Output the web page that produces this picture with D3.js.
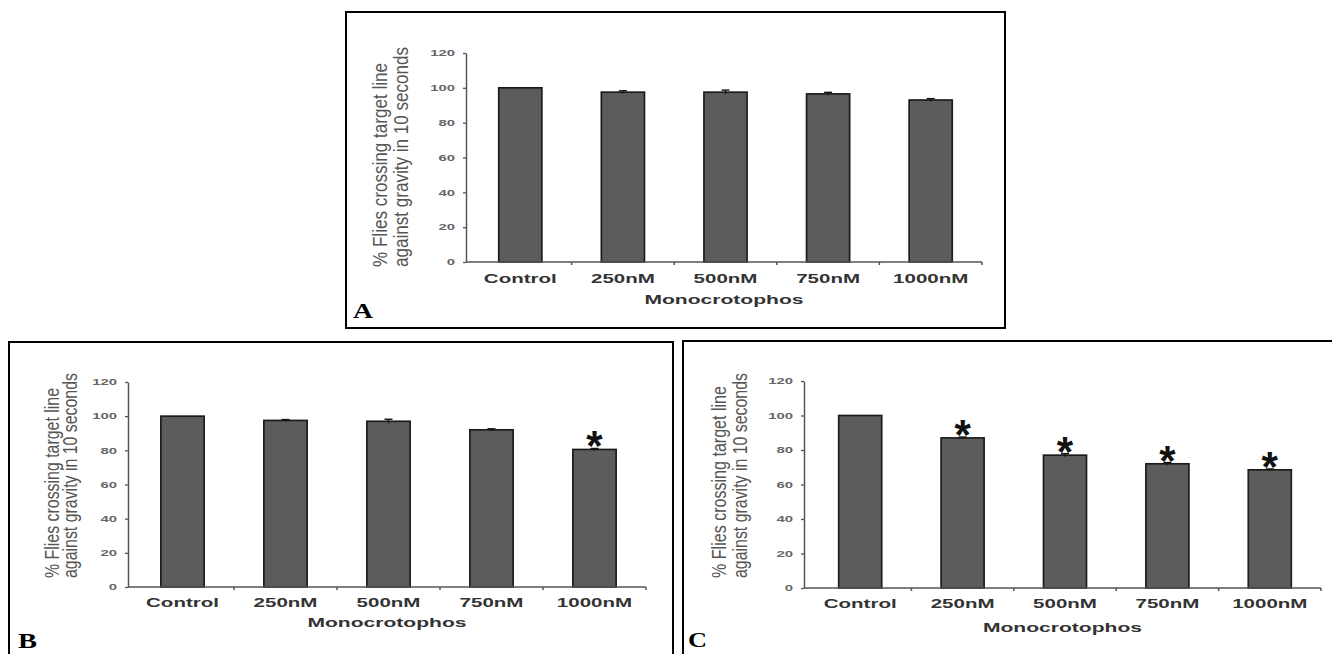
<!DOCTYPE html>
<html>
<head>
<meta charset="utf-8">
<script src="https://cdn.jsdelivr.net/npm/d3@7"></script>
<style>
  html, body { margin: 0; padding: 0; background: #ffffff; }
  svg { display: block; }
</style>
</head>
<body>
<svg id="chart" width="1332" height="654"></svg>
<script>
// ---------------- data ----------------
const categories = ["Control", "250nM", "500nM", "750nM", "1000nM"];
const yTickValues = [0, 20, 40, 60, 80, 100, 120];
const xAxisTitle = "Monocrotophos";
const yTitleLine1 = "% Flies crossing target line";
const yTitleLine2 = "against gravity in 10 seconds";

const valuesA = [100, 97.5, 97.5, 96.5, 93];
const errorsA = [0, 0.8, 1.2, 0.9, 0.8];
const signifA = [false, false, false, false, false];

const valuesB = [100, 97.5, 97, 92, 80.5];
const errorsB = [0, 0.5, 1.2, 0.6, 0.6];
const signifB = [false, false, false, false, true];

const valuesC = [100, 87, 77, 72, 68.5];
const errorsC = [0, 0.5, 0.9, 0.7, 0.5];
const signifC = [false, true, true, true, true];

// ---------------- drawing ----------------
const svg = d3.select("#chart");

function stretch(sel, f) {
  sel.each(function () {
    const L = this.getComputedTextLength();
    d3.select(this).attr("textLength", L * f).attr("lengthAdjust", "spacingAndGlyphs");
  });
}

const panels = [
  { label: "A", values: valuesA, errors: errorsA, signif: signifA,
    box: [346, 12, 1005, 328], axisX: 466, bandStart: 469, axisEnd: 982,
    y0: 262, y120: 53, letter: [353, 318, 20],
    yl1: [387, 267, 204], yl2: [408, 267, 220], catBase: 21, titleBase: 304 },
  { label: "B", values: valuesB, errors: errorsB, signif: signifB,
    box: [9, 342, 673, 660], axisX: 128, bandStart: 131, axisEnd: 646,
    y0: 587, y120: 382, letter: [18, 648, 19],
    yl1: [59, 578, 190], yl2: [77, 578, 205], catBase: 20, titleBase: 627 },
  { label: "C", values: valuesC, errors: errorsC, signif: signifC,
    box: [683, 341, 1345, 660], axisX: 804, bandStart: 809, axisEnd: 1321,
    y0: 588, y120: 381, letter: [688, 647, 19],
    yl1: [726, 578, 192], yl2: [747, 578, 205], catBase: 20, titleBase: 632 }
];

panels.forEach(p => {
  const g = svg.append("g");

  // panel border
  g.append("rect")
    .attr("x", p.box[0]).attr("y", p.box[1])
    .attr("width", p.box[2] - p.box[0]).attr("height", p.box[3] - p.box[1])
    .attr("fill", "none").attr("stroke", "#000").attr("stroke-width", 2);

  const x = d3.scaleBand().domain(categories)
    .range([p.bandStart, p.axisEnd]).paddingInner(0.58).paddingOuter(0.29);
  const y = d3.scaleLinear().domain([0, 120]).range([p.y0, p.y120]);

  // bars
  g.selectAll("rect.bar").data(categories).join("rect")
    .attr("class", "bar")
    .attr("x", d => x(d))
    .attr("y", (d, i) => y(p.values[i]))
    .attr("width", x.bandwidth())
    .attr("height", (d, i) => y(0) - y(p.values[i]))
    .attr("fill", "#5c5c5c")
    .attr("stroke", "#1c1c1c")
    .attr("stroke-width", 1.7);

  // error bars
  const eg = g.append("g");
  categories.forEach((c, i) => {
    const e = p.errors[i];
    if (!e) return;
    const cx = x(c) + x.bandwidth() / 2;
    eg.append("line").attr("x1", cx).attr("x2", cx)
      .attr("y1", y(p.values[i] - e)).attr("y2", y(p.values[i] + e))
      .attr("stroke", "#111").attr("stroke-width", 1.2);
    eg.append("line").attr("x1", cx - 4).attr("x2", cx + 4)
      .attr("y1", y(p.values[i] + e)).attr("y2", y(p.values[i] + e))
      .attr("stroke", "#111").attr("stroke-width", 1.4);
  });

  // significance stars
  categories.forEach((c, i) => {
    if (!p.signif[i]) return;
    const cx = x(c) + x.bandwidth() / 2;
    g.append("text")
      .attr("x", cx)
      .attr("y", y(p.values[i] + p.errors[i]) - 12 + 24)
      .attr("text-anchor", "middle")
      .attr("font-family", "Liberation Sans, Arial, sans-serif")
      .attr("font-weight", "bold")
      .attr("font-size", 42)
      .attr("fill", "#111")
      .text("*");
  });

  // y axis
  const yAxis = g.append("g")
    .attr("transform", `translate(${p.axisX},0)`)
    .call(d3.axisLeft(y).tickValues(yTickValues).tickSize(3).tickSizeOuter(0).tickPadding(8));
  yAxis.select(".domain").attr("stroke", "#555").attr("stroke-width", 1.5);
  yAxis.selectAll(".tick line").attr("stroke", "#555").attr("stroke-width", 1.3);
  yAxis.selectAll(".tick text")
    .attr("font-family", "Liberation Sans, Arial, sans-serif")
    .attr("font-weight", "bold")
    .attr("font-size", 8.5)
    .attr("fill", "#666")
    .attr("x", -11)
    .call(stretch, 1.75);

  // x axis line
  g.append("line")
    .attr("x1", p.axisX).attr("x2", p.axisEnd)
    .attr("y1", y(0)).attr("y2", y(0))
    .attr("stroke", "#555").attr("stroke-width", 1.5);
  // boundary ticks
  categories.forEach((c, i) => {
    const bx = p.bandStart + x.step() * (i + 1);
    g.append("line").attr("x1", bx).attr("x2", bx)
      .attr("y1", y(0)).attr("y2", y(0) + 3)
      .attr("stroke", "#555").attr("stroke-width", 1.5);
  });

  // category labels
  const xAxis = g.append("g")
    .attr("transform", `translate(0,${y(0)})`)
    .call(d3.axisBottom(x).tickSize(0).tickPadding(0));
  xAxis.select(".domain").remove();
  xAxis.selectAll(".tick text")
    .attr("y", p.catBase).attr("dy", null)
    .attr("font-family", "Liberation Sans, Arial, sans-serif")
    .attr("font-weight", "bold")
    .attr("font-size", 13.5)
    .attr("fill", "#333")
    .call(stretch, 1.52);

  // x title
  g.append("text")
    .attr("x", (p.axisX + p.axisEnd) / 2)
    .attr("y", p.titleBase)
    .attr("text-anchor", "middle")
    .attr("font-family", "Liberation Sans, Arial, sans-serif")
    .attr("font-weight", "bold")
    .attr("font-size", 13.5)
    .attr("fill", "#333")
    .text(xAxisTitle)
    .call(stretch, 1.56);

  // y title (two lines)
  [[yTitleLine1, p.yl1], [yTitleLine2, p.yl2]].forEach(([t, pos]) => {
    g.append("text")
      .attr("transform", `translate(${pos[0]},${pos[1]}) rotate(-90)`)
      .attr("text-anchor", "start")
      .attr("font-family", "Liberation Sans, Arial, sans-serif")
      .attr("font-size", 21)
      .attr("fill", "#555")
      .attr("textLength", pos[2])
      .attr("lengthAdjust", "spacingAndGlyphs")
      .text(t);
  });

  // panel letter
  g.append("text")
    .attr("x", p.letter[0]).attr("y", p.letter[1])
    .attr("font-family", "Liberation Serif, Times New Roman, serif")
    .attr("font-weight", "bold")
    .attr("font-size", 22)
    .attr("fill", "#000")
    .attr("textLength", p.letter[2])
    .attr("lengthAdjust", "spacingAndGlyphs")
    .text(p.label);
});
</script>
</body>
</html>
